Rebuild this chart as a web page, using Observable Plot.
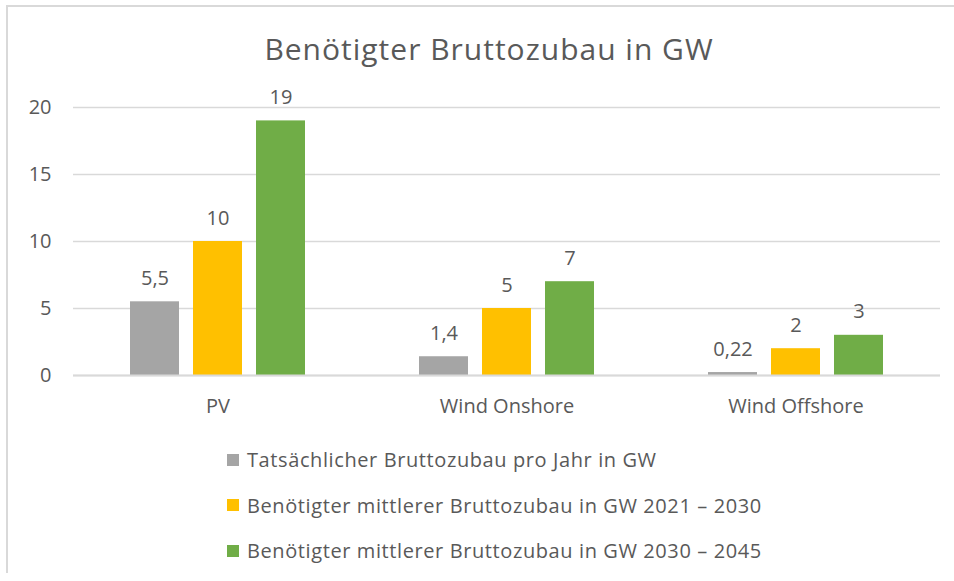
<!DOCTYPE html>
<html>
<head>
<meta charset="utf-8">
<script src="https://cdn.jsdelivr.net/npm/d3@7"></script>
<script src="https://cdn.jsdelivr.net/npm/@observablehq/plot@0.6"></script>
<style>
  html, body { margin: 0; padding: 0; background: #fff; overflow: hidden; }
  #wrap { position: relative; width: 954px; height: 581px; font-family: "Open Sans", sans-serif; color: #595959; }
  #frame { position: absolute; left: 6px; top: 5px; width: 960px; height: 566px; border-top: 2px solid #d9d9d9; border-left: 2px solid #d9d9d9; pointer-events: none; }
  #title { height: 46px; padding-top: 34px; line-height: 30px; font-size: 30px; letter-spacing: 1px; text-align: center; padding-left: 24px; box-sizing: content-box; white-space: nowrap; }
  #chart svg { display: block; }
  #legend { padding-top: 7px; padding-left: 227px; }
  .item { height: 45.5px; display: flex; align-items: center; font-size: 20px; letter-spacing: 0.6px; white-space: nowrap; }
  .sw { width: 12px; height: 12px; margin-right: 8px; flex: none; }
</style>
</head>
<body>
<div id="wrap">
  <div id="title"></div>
  <div id="chart"></div>
  <div id="legend"></div>
  <div id="frame"></div>
</div>
<script>
const title = "Benötigter Bruttozubau in GW";
const categories = ["PV", "Wind Onshore", "Wind Offshore"];
const seriesNames = [
  "Tatsächlicher Bruttozubau pro Jahr in GW",
  "Benötigter mittlerer Bruttozubau in GW 2021 – 2030",
  "Benötigter mittlerer Bruttozubau in GW 2030 – 2045"
];
const actualPerYear = [5.5, 1.4, 0.22];
const needed2021to2030 = [10, 5, 2];
const needed2030to2045 = [19, 7, 3];
const seriesColors = ["#A5A5A5", "#FFC000", "#70AD47"];
const yTicks = [0, 5, 10, 15, 20];

const seriesValues = [actualPerYear, needed2021to2030, needed2030to2045];
const data = categories.flatMap((cat, i) =>
  seriesNames.map((s, j) => ({cat, series: s, value: seriesValues[j][i]}))
);
const fmt = v => String(v).replace(".", ",");

document.getElementById("title").textContent = title;

const plot = Plot.plot({
  width: 954,
  height: 350,
  marginTop: 27,
  marginBottom: 55,
  marginLeft: 72,
  marginRight: 14,
  style: {fontFamily: "Open Sans, sans-serif", fontSize: "20px", color: "#595959", background: "transparent"},
  fx: {domain: categories, padding: 0, label: null, axis: null},
  x: {domain: seriesNames, paddingInner: 0.22, paddingOuter: 0.87, axis: null},
  y: {domain: [0, 20], label: null},
  color: {domain: seriesNames, range: seriesColors},
  marks: [
    Plot.gridY(yTicks, {stroke: "#d9d9d9", strokeOpacity: 1, strokeWidth: 1.5}),
    Plot.barY(data, {fx: "cat", x: "series", y: "value", fill: "series"}),
    Plot.ruleY([0], {stroke: "#d9d9d9", strokeWidth: 2}),
    Plot.text(data, {fx: "cat", x: "series", y: "value", text: d => fmt(d.value), lineAnchor: "bottom", dy: -17, fill: "#595959", fontSize: 20}),
    Plot.axisY({ticks: yTicks, tickSize: 0, tickPadding: 22, label: null, fontSize: 20, fill: "#595959"}),
    Plot.axisFx({anchor: "bottom", tickSize: 0, tickPadding: 23, label: null, fontSize: 20, fill: "#595959"})
  ]
});
document.getElementById("chart").appendChild(plot);

const legend = document.getElementById("legend");
seriesNames.forEach((name, i) => {
  const row = document.createElement("div");
  row.className = "item";
  const sw = document.createElement("span");
  sw.className = "sw";
  sw.style.background = seriesColors[i];
  const label = document.createElement("span");
  label.textContent = name;
  row.appendChild(sw);
  row.appendChild(label);
  legend.appendChild(row);
});
</script>
</body>
</html>
